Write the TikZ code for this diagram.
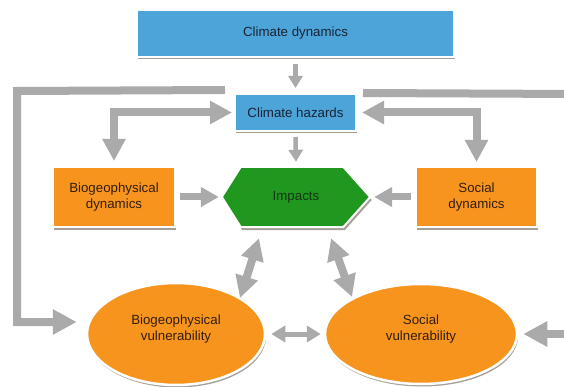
\documentclass[tikz,border=0pt]{standalone}
\usepackage{fontspec}
\setmainfont{Liberation Sans}
\usetikzlibrary{arrows.meta,shapes.geometric,backgrounds,shadows}
\definecolor{cblue}{RGB}{77,164,216}
\definecolor{corange}{RGB}{247,148,30}
\definecolor{cgreen}{RGB}{32,152,32}
\definecolor{cgray}{RGB}{170,170,170}
\definecolor{cshadow}{RGB}{165,158,150}
\definecolor{bluetext}{RGB}{25,35,55}
\definecolor{orangetext}{RGB}{50,30,15}
\definecolor{greentext}{RGB}{20,55,20}
\begin{document}
\begin{tikzpicture}[x=1pt,y=-1pt,
  txt/.style={font=\fontsize{13.3}{16.5}\selectfont, align=center},
  shadowed/.style={drop shadow={shadow xshift=1pt, shadow yshift=-2.5pt, fill=cshadow, opacity=1}},
  bluebox/.style={txt, rectangle, fill=cblue, draw=white, line width=2pt, inner sep=0pt, text=bluetext, shadowed},
  orangebox/.style={txt, rectangle, fill=corange, draw=white, line width=2pt, inner sep=0pt, text=orangetext, shadowed},
  orangeoval/.style={ellipse, fill=corange, draw=white, line width=2.5pt, inner sep=0pt, shadowed},
  ovaltext/.style={txt, text=orangetext},
  bigline/.style={draw=cgray, line width=8pt},
  bigarrow/.style={bigline, arrows={-Triangle[length=24pt,width=24pt]}},
  bigdouble/.style={bigline, arrows={Triangle[length=22pt,width=22pt]-Triangle[length=22pt,width=22pt]}},
  midarrow/.style={draw=cgray, line width=7pt, arrows={-Triangle[length=18pt,width=19pt]}},
  smallarrow/.style={draw=cgray, line width=4.5pt, arrows={-Triangle[length=12pt,width=14pt]}},
  smalldouble/.style={draw=cgray, line width=5pt, arrows={Triangle[length=14pt,width=16pt]-Triangle[length=14pt,width=16pt]}}
]
\useasboundingbox (0,0) rectangle (564,387);
\clip (0,0) rectangle (564,387);

% nodes
\node[bluebox, minimum width=317pt, minimum height=47pt] (CD) at (295.5,33.5) {Climate dynamics};
\node[bluebox, minimum width=121pt, minimum height=37pt] (CH) at (295.5,112.5) {Climate hazards};
\node[orangebox, minimum width=122pt, minimum height=60pt] (BD) at (114,197) {Biogeophysical\\dynamics};
\node[orangebox, minimum width=121pt, minimum height=60pt] (SD) at (476.5,197) {Social\\dynamics};
\node[txt, text=greentext, rectangle, minimum width=148pt, minimum height=60pt, inner sep=0pt] (IMP) at (296,197) {Impacts};
\node[orangeoval, minimum width=178pt, minimum height=102pt,
      label={[ovaltext, shift={(0,-5)}]center:{Biogeophysical\\vulnerability}}] (BV) at (176,334) {};
\node[orangeoval, minimum width=192pt, minimum height=100pt,
      label={[ovaltext, shift={(0,-5)}]center:{Social\\vulnerability}}] (SV) at (421,334) {};

% hexagon of the Impacts node
\begin{scope}[on background layer]
  \fill[cshadow] ([shift={(1.5,3)}]IMP.west) -- ([shift={(20.5,3)}]IMP.north west) -- ([shift={(-25.5,3)}]IMP.north east) -- ([shift={(1.5,3)}]IMP.east) -- ([shift={(-25.5,3)}]IMP.south east) -- ([shift={(20.5,3)}]IMP.south west) -- cycle;
  \filldraw[fill=cgreen, draw=white, line width=2pt] (IMP.west) -- ([shift={(19,0)}]IMP.north west) -- ([shift={(-27,0)}]IMP.north east) -- (IMP.east) -- ([shift={(-27,0)}]IMP.south east) -- ([shift={(19,0)}]IMP.south west) -- cycle;
\end{scope}

% free ends of the outer loops
\coordinate (lstart) at ([shift={(-9,-3)}]CH.north west);
\coordinate (lcorner) at (17,91);
\coordinate (lend) at ([shift={(-9,-12)}]BV.west);
\coordinate (rstart) at ([shift={(6,0)}]CH.north east);
\coordinate (rend) at (575,94);
\coordinate (rin) at (575,334);

% connectors
\draw[smallarrow] ([shift={(0,6)}]CD.south) -- ([shift={(0,-5)}]CH.north);
\draw[smallarrow] ([shift={(0,5)}]CH.south) -- ([shift={(0,-5)}]IMP.north);
\draw[bigdouble] ([shift={(0,-5)}]BD.north) |- ([shift={(-2,0)}]CH.west);
\draw[bigdouble] ([shift={(0,-4)}]SD.north) |- ([shift={(5,0)}]CH.east);
\draw[midarrow] ([shift={(4,0)}]BD.east) -- ([shift={(-3,0)}]IMP.west);
\draw[midarrow] ([shift={(-4,0)}]SD.west) -- ([shift={(4,0)}]IMP.east);
\draw[bigdouble] ([shift={(-37,11)}]IMP.south) -- ([shift={(64,-36)}]BV.center);
\draw[bigdouble] ([shift={(35,11)}]IMP.south) -- ([shift={(-69,-37)}]SV.center);
\draw[smalldouble] ([shift={(5,0)}]BV.east) -- ([shift={(-3,0)}]SV.west);
\draw[bigarrow] (lstart) -- (lcorner) |- (lend);
\draw[bigline] (rstart) -- (rend);
\draw[bigarrow] (rin) -- ([shift={(5,0)}]SV.east);
\end{tikzpicture}
\end{document}
